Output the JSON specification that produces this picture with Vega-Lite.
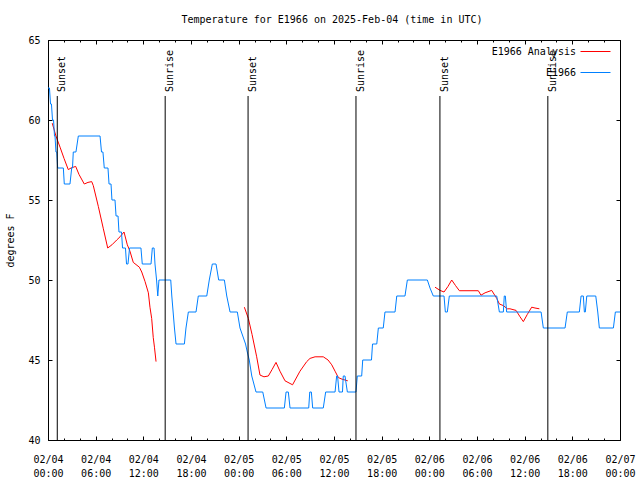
{
  "$schema": "https://vega.github.io/schema/vega-lite/v6.json",
  "width": 572,
  "height": 400,
  "autosize": {"type": "none"},
  "padding": {"left": 48, "top": 40, "right": 20, "bottom": 40},
  "background": "white",
  "title": {"text": "Temperature for E1966 on 2025-Feb-04 (time in UTC)", "font": "DejaVu Sans Mono", "fontSize": 10, "fontWeight": "normal", "color": "#000", "anchor": "middle", "baseline": "bottom", "offset": 0, "dx": -2},
  "config": {
    "font": "DejaVu Sans Mono",
    "view": {"stroke": "#000", "strokeWidth": 1},
    "axis": {"labelFont": "DejaVu Sans Mono", "labelFontSize": 10, "labelColor": "#000", "tickColor": "#000", "tickWidth": 1, "titleFont": "DejaVu Sans Mono", "titleFontSize": 10, "titleFontWeight": "normal", "titleColor": "#000", "grid": false, "domain": false}
  },
  "datasets": {
    "temps": [
      {"series": "E1966", "seg": "b", "time": "2025-02-04T00:00:00Z", "temp": 62},
      {"series": "E1966", "seg": "b", "time": "2025-02-04T00:11:00Z", "temp": 62},
      {"series": "E1966", "seg": "b", "time": "2025-02-04T00:19:00Z", "temp": 61},
      {"series": "E1966", "seg": "b", "time": "2025-02-04T00:26:00Z", "temp": 61},
      {"series": "E1966", "seg": "b", "time": "2025-02-04T00:34:00Z", "temp": 60},
      {"series": "E1966", "seg": "b", "time": "2025-02-04T00:42:00Z", "temp": 60},
      {"series": "E1966", "seg": "b", "time": "2025-02-04T00:49:00Z", "temp": 59},
      {"series": "E1966", "seg": "b", "time": "2025-02-04T00:53:00Z", "temp": 59},
      {"series": "E1966", "seg": "b", "time": "2025-02-04T01:00:00Z", "temp": 58},
      {"series": "E1966", "seg": "b", "time": "2025-02-04T01:06:00Z", "temp": 58},
      {"series": "E1966", "seg": "b", "time": "2025-02-04T01:13:00Z", "temp": 57},
      {"series": "E1966", "seg": "b", "time": "2025-02-04T01:56:00Z", "temp": 57},
      {"series": "E1966", "seg": "b", "time": "2025-02-04T02:03:00Z", "temp": 56},
      {"series": "E1966", "seg": "b", "time": "2025-02-04T02:46:00Z", "temp": 56},
      {"series": "E1966", "seg": "b", "time": "2025-02-04T02:59:00Z", "temp": 57},
      {"series": "E1966", "seg": "b", "time": "2025-02-04T03:05:00Z", "temp": 57},
      {"series": "E1966", "seg": "b", "time": "2025-02-04T03:11:00Z", "temp": 58},
      {"series": "E1966", "seg": "b", "time": "2025-02-04T03:31:00Z", "temp": 58},
      {"series": "E1966", "seg": "b", "time": "2025-02-04T03:49:00Z", "temp": 59},
      {"series": "E1966", "seg": "b", "time": "2025-02-04T06:33:00Z", "temp": 59},
      {"series": "E1966", "seg": "b", "time": "2025-02-04T06:44:00Z", "temp": 58},
      {"series": "E1966", "seg": "b", "time": "2025-02-04T06:55:00Z", "temp": 58},
      {"series": "E1966", "seg": "b", "time": "2025-02-04T07:05:00Z", "temp": 57},
      {"series": "E1966", "seg": "b", "time": "2025-02-04T07:33:00Z", "temp": 57},
      {"series": "E1966", "seg": "b", "time": "2025-02-04T07:41:00Z", "temp": 56},
      {"series": "E1966", "seg": "b", "time": "2025-02-04T07:56:00Z", "temp": 56},
      {"series": "E1966", "seg": "b", "time": "2025-02-04T08:03:00Z", "temp": 55},
      {"series": "E1966", "seg": "b", "time": "2025-02-04T08:26:00Z", "temp": 55},
      {"series": "E1966", "seg": "b", "time": "2025-02-04T08:34:00Z", "temp": 54},
      {"series": "E1966", "seg": "b", "time": "2025-02-04T08:49:00Z", "temp": 54},
      {"series": "E1966", "seg": "b", "time": "2025-02-04T08:56:00Z", "temp": 53},
      {"series": "E1966", "seg": "b", "time": "2025-02-04T09:15:00Z", "temp": 53},
      {"series": "E1966", "seg": "b", "time": "2025-02-04T09:23:00Z", "temp": 52},
      {"series": "E1966", "seg": "b", "time": "2025-02-04T09:45:00Z", "temp": 52},
      {"series": "E1966", "seg": "b", "time": "2025-02-04T09:53:00Z", "temp": 51},
      {"series": "E1966", "seg": "b", "time": "2025-02-04T10:04:00Z", "temp": 51},
      {"series": "E1966", "seg": "b", "time": "2025-02-04T10:16:00Z", "temp": 52},
      {"series": "E1966", "seg": "b", "time": "2025-02-04T11:42:00Z", "temp": 52},
      {"series": "E1966", "seg": "b", "time": "2025-02-04T11:52:00Z", "temp": 51},
      {"series": "E1966", "seg": "b", "time": "2025-02-04T12:58:00Z", "temp": 51},
      {"series": "E1966", "seg": "b", "time": "2025-02-04T13:08:00Z", "temp": 52},
      {"series": "E1966", "seg": "b", "time": "2025-02-04T13:21:00Z", "temp": 52},
      {"series": "E1966", "seg": "b", "time": "2025-02-04T13:28:00Z", "temp": 51},
      {"series": "E1966", "seg": "b", "time": "2025-02-04T13:40:00Z", "temp": 50},
      {"series": "E1966", "seg": "b", "time": "2025-02-04T13:49:00Z", "temp": 49},
      {"series": "E1966", "seg": "b", "time": "2025-02-04T13:58:00Z", "temp": 50},
      {"series": "E1966", "seg": "b", "time": "2025-02-04T15:27:00Z", "temp": 50},
      {"series": "E1966", "seg": "b", "time": "2025-02-04T15:35:00Z", "temp": 49},
      {"series": "E1966", "seg": "b", "time": "2025-02-04T15:45:00Z", "temp": 48},
      {"series": "E1966", "seg": "b", "time": "2025-02-04T15:55:00Z", "temp": 47},
      {"series": "E1966", "seg": "b", "time": "2025-02-04T16:07:00Z", "temp": 46},
      {"series": "E1966", "seg": "b", "time": "2025-02-04T17:10:00Z", "temp": 46},
      {"series": "E1966", "seg": "b", "time": "2025-02-04T17:22:00Z", "temp": 47},
      {"series": "E1966", "seg": "b", "time": "2025-02-04T17:40:00Z", "temp": 48},
      {"series": "E1966", "seg": "b", "time": "2025-02-04T18:38:00Z", "temp": 48},
      {"series": "E1966", "seg": "b", "time": "2025-02-04T18:55:00Z", "temp": 49},
      {"series": "E1966", "seg": "b", "time": "2025-02-04T19:59:00Z", "temp": 49},
      {"series": "E1966", "seg": "b", "time": "2025-02-04T20:18:00Z", "temp": 50},
      {"series": "E1966", "seg": "b", "time": "2025-02-04T20:41:00Z", "temp": 51},
      {"series": "E1966", "seg": "b", "time": "2025-02-04T21:09:00Z", "temp": 51},
      {"series": "E1966", "seg": "b", "time": "2025-02-04T21:29:00Z", "temp": 50},
      {"series": "E1966", "seg": "b", "time": "2025-02-04T22:12:00Z", "temp": 50},
      {"series": "E1966", "seg": "b", "time": "2025-02-04T22:30:00Z", "temp": 49},
      {"series": "E1966", "seg": "b", "time": "2025-02-04T22:55:00Z", "temp": 48},
      {"series": "E1966", "seg": "b", "time": "2025-02-04T23:50:00Z", "temp": 48},
      {"series": "E1966", "seg": "b", "time": "2025-02-05T00:10:00Z", "temp": 47},
      {"series": "E1966", "seg": "b", "time": "2025-02-05T00:31:00Z", "temp": 46.5},
      {"series": "E1966", "seg": "b", "time": "2025-02-05T00:52:00Z", "temp": 46},
      {"series": "E1966", "seg": "b", "time": "2025-02-05T01:05:00Z", "temp": 45.5},
      {"series": "E1966", "seg": "b", "time": "2025-02-05T01:20:00Z", "temp": 45},
      {"series": "E1966", "seg": "b", "time": "2025-02-05T01:39:00Z", "temp": 44},
      {"series": "E1966", "seg": "b", "time": "2025-02-05T02:11:00Z", "temp": 43},
      {"series": "E1966", "seg": "b", "time": "2025-02-05T03:02:00Z", "temp": 43},
      {"series": "E1966", "seg": "b", "time": "2025-02-05T03:27:00Z", "temp": 42},
      {"series": "E1966", "seg": "b", "time": "2025-02-05T05:45:00Z", "temp": 42},
      {"series": "E1966", "seg": "b", "time": "2025-02-05T05:58:00Z", "temp": 43},
      {"series": "E1966", "seg": "b", "time": "2025-02-05T06:15:00Z", "temp": 43},
      {"series": "E1966", "seg": "b", "time": "2025-02-05T06:28:00Z", "temp": 42},
      {"series": "E1966", "seg": "b", "time": "2025-02-05T08:49:00Z", "temp": 42},
      {"series": "E1966", "seg": "b", "time": "2025-02-05T08:57:00Z", "temp": 43},
      {"series": "E1966", "seg": "b", "time": "2025-02-05T09:09:00Z", "temp": 43},
      {"series": "E1966", "seg": "b", "time": "2025-02-05T09:19:00Z", "temp": 42},
      {"series": "E1966", "seg": "b", "time": "2025-02-05T10:39:00Z", "temp": 42},
      {"series": "E1966", "seg": "b", "time": "2025-02-05T10:57:00Z", "temp": 43},
      {"series": "E1966", "seg": "b", "time": "2025-02-05T12:08:00Z", "temp": 43},
      {"series": "E1966", "seg": "b", "time": "2025-02-05T12:20:00Z", "temp": 44},
      {"series": "E1966", "seg": "b", "time": "2025-02-05T12:27:00Z", "temp": 44},
      {"series": "E1966", "seg": "b", "time": "2025-02-05T12:38:00Z", "temp": 43},
      {"series": "E1966", "seg": "b", "time": "2025-02-05T13:04:00Z", "temp": 43},
      {"series": "E1966", "seg": "b", "time": "2025-02-05T13:10:00Z", "temp": 44},
      {"series": "E1966", "seg": "b", "time": "2025-02-05T13:23:00Z", "temp": 44},
      {"series": "E1966", "seg": "b", "time": "2025-02-05T13:41:00Z", "temp": 43},
      {"series": "E1966", "seg": "b", "time": "2025-02-05T14:46:00Z", "temp": 43},
      {"series": "E1966", "seg": "b", "time": "2025-02-05T14:56:00Z", "temp": 44},
      {"series": "E1966", "seg": "b", "time": "2025-02-05T15:29:00Z", "temp": 44},
      {"series": "E1966", "seg": "b", "time": "2025-02-05T15:37:00Z", "temp": 45},
      {"series": "E1966", "seg": "b", "time": "2025-02-05T16:43:00Z", "temp": 45},
      {"series": "E1966", "seg": "b", "time": "2025-02-05T16:51:00Z", "temp": 46},
      {"series": "E1966", "seg": "b", "time": "2025-02-05T17:23:00Z", "temp": 46},
      {"series": "E1966", "seg": "b", "time": "2025-02-05T17:35:00Z", "temp": 47},
      {"series": "E1966", "seg": "b", "time": "2025-02-05T18:12:00Z", "temp": 47},
      {"series": "E1966", "seg": "b", "time": "2025-02-05T18:25:00Z", "temp": 48},
      {"series": "E1966", "seg": "b", "time": "2025-02-05T19:41:00Z", "temp": 48},
      {"series": "E1966", "seg": "b", "time": "2025-02-05T19:54:00Z", "temp": 49},
      {"series": "E1966", "seg": "b", "time": "2025-02-05T20:56:00Z", "temp": 49},
      {"series": "E1966", "seg": "b", "time": "2025-02-05T21:14:00Z", "temp": 50},
      {"series": "E1966", "seg": "b", "time": "2025-02-05T23:45:00Z", "temp": 50},
      {"series": "E1966", "seg": "b", "time": "2025-02-06T00:05:00Z", "temp": 49.5},
      {"series": "E1966", "seg": "b", "time": "2025-02-06T00:30:00Z", "temp": 49},
      {"series": "E1966", "seg": "b", "time": "2025-02-06T01:51:00Z", "temp": 49},
      {"series": "E1966", "seg": "b", "time": "2025-02-06T02:01:00Z", "temp": 48},
      {"series": "E1966", "seg": "b", "time": "2025-02-06T02:16:00Z", "temp": 48},
      {"series": "E1966", "seg": "b", "time": "2025-02-06T02:31:00Z", "temp": 49},
      {"series": "E1966", "seg": "b", "time": "2025-02-06T08:29:00Z", "temp": 49},
      {"series": "E1966", "seg": "b", "time": "2025-02-06T08:49:00Z", "temp": 48},
      {"series": "E1966", "seg": "b", "time": "2025-02-06T09:19:00Z", "temp": 48},
      {"series": "E1966", "seg": "b", "time": "2025-02-06T09:26:00Z", "temp": 49},
      {"series": "E1966", "seg": "b", "time": "2025-02-06T09:34:00Z", "temp": 49},
      {"series": "E1966", "seg": "b", "time": "2025-02-06T09:44:00Z", "temp": 48},
      {"series": "E1966", "seg": "b", "time": "2025-02-06T14:04:00Z", "temp": 48},
      {"series": "E1966", "seg": "b", "time": "2025-02-06T14:21:00Z", "temp": 47},
      {"series": "E1966", "seg": "b", "time": "2025-02-06T17:05:00Z", "temp": 47},
      {"series": "E1966", "seg": "b", "time": "2025-02-06T17:22:00Z", "temp": 48},
      {"series": "E1966", "seg": "b", "time": "2025-02-06T18:53:00Z", "temp": 48},
      {"series": "E1966", "seg": "b", "time": "2025-02-06T19:06:00Z", "temp": 49},
      {"series": "E1966", "seg": "b", "time": "2025-02-06T19:23:00Z", "temp": 49},
      {"series": "E1966", "seg": "b", "time": "2025-02-06T19:31:00Z", "temp": 48},
      {"series": "E1966", "seg": "b", "time": "2025-02-06T19:38:00Z", "temp": 48},
      {"series": "E1966", "seg": "b", "time": "2025-02-06T19:49:00Z", "temp": 49},
      {"series": "E1966", "seg": "b", "time": "2025-02-06T20:57:00Z", "temp": 49},
      {"series": "E1966", "seg": "b", "time": "2025-02-06T21:12:00Z", "temp": 48},
      {"series": "E1966", "seg": "b", "time": "2025-02-06T21:24:00Z", "temp": 47},
      {"series": "E1966", "seg": "b", "time": "2025-02-06T23:10:00Z", "temp": 47},
      {"series": "E1966", "seg": "b", "time": "2025-02-06T23:25:00Z", "temp": 48},
      {"series": "E1966", "seg": "b", "time": "2025-02-07T00:00:00Z", "temp": 48},
      {"series": "E1966 Analysis", "seg": "a1", "time": "2025-02-04T00:32:00Z", "temp": 59.8},
      {"series": "E1966 Analysis", "seg": "a1", "time": "2025-02-04T01:00:00Z", "temp": 59.0},
      {"series": "E1966 Analysis", "seg": "a1", "time": "2025-02-04T01:31:00Z", "temp": 58.3},
      {"series": "E1966 Analysis", "seg": "a1", "time": "2025-02-04T02:01:00Z", "temp": 57.6},
      {"series": "E1966 Analysis", "seg": "a1", "time": "2025-02-04T02:33:00Z", "temp": 56.9},
      {"series": "E1966 Analysis", "seg": "a1", "time": "2025-02-04T02:54:00Z", "temp": 57.0},
      {"series": "E1966 Analysis", "seg": "a1", "time": "2025-02-04T03:29:00Z", "temp": 57.1},
      {"series": "E1966 Analysis", "seg": "a1", "time": "2025-02-04T03:54:00Z", "temp": 56.6},
      {"series": "E1966 Analysis", "seg": "a1", "time": "2025-02-04T04:34:00Z", "temp": 56.0},
      {"series": "E1966 Analysis", "seg": "a1", "time": "2025-02-04T05:02:00Z", "temp": 56.1},
      {"series": "E1966 Analysis", "seg": "a1", "time": "2025-02-04T05:30:00Z", "temp": 56.15},
      {"series": "E1966 Analysis", "seg": "a1", "time": "2025-02-04T05:42:00Z", "temp": 55.9},
      {"series": "E1966 Analysis", "seg": "a1", "time": "2025-02-04T06:20:00Z", "temp": 54.6},
      {"series": "E1966 Analysis", "seg": "a1", "time": "2025-02-04T06:58:00Z", "temp": 53.2},
      {"series": "E1966 Analysis", "seg": "a1", "time": "2025-02-04T07:31:00Z", "temp": 52.0},
      {"series": "E1966 Analysis", "seg": "a1", "time": "2025-02-04T08:03:00Z", "temp": 52.2},
      {"series": "E1966 Analysis", "seg": "a1", "time": "2025-02-04T08:39:00Z", "temp": 52.5},
      {"series": "E1966 Analysis", "seg": "a1", "time": "2025-02-04T09:04:00Z", "temp": 52.7},
      {"series": "E1966 Analysis", "seg": "a1", "time": "2025-02-04T09:34:00Z", "temp": 53.0},
      {"series": "E1966 Analysis", "seg": "a1", "time": "2025-02-04T09:59:00Z", "temp": 52.2},
      {"series": "E1966 Analysis", "seg": "a1", "time": "2025-02-04T10:19:00Z", "temp": 51.8},
      {"series": "E1966 Analysis", "seg": "a1", "time": "2025-02-04T10:44:00Z", "temp": 51.1},
      {"series": "E1966 Analysis", "seg": "a1", "time": "2025-02-04T11:30:00Z", "temp": 50.8},
      {"series": "E1966 Analysis", "seg": "a1", "time": "2025-02-04T11:48:00Z", "temp": 50.5},
      {"series": "E1966 Analysis", "seg": "a1", "time": "2025-02-04T12:13:00Z", "temp": 49.9},
      {"series": "E1966 Analysis", "seg": "a1", "time": "2025-02-04T12:38:00Z", "temp": 49.2},
      {"series": "E1966 Analysis", "seg": "a1", "time": "2025-02-04T12:50:00Z", "temp": 48.3},
      {"series": "E1966 Analysis", "seg": "a1", "time": "2025-02-04T13:03:00Z", "temp": 47.6},
      {"series": "E1966 Analysis", "seg": "a1", "time": "2025-02-04T13:15:00Z", "temp": 46.4},
      {"series": "E1966 Analysis", "seg": "a1", "time": "2025-02-04T13:24:00Z", "temp": 45.8},
      {"series": "E1966 Analysis", "seg": "a1", "time": "2025-02-04T13:36:00Z", "temp": 44.9},
      {"series": "E1966 Analysis", "seg": "a2", "time": "2025-02-05T00:43:00Z", "temp": 48.3},
      {"series": "E1966 Analysis", "seg": "a2", "time": "2025-02-05T01:13:00Z", "temp": 47.6},
      {"series": "E1966 Analysis", "seg": "a2", "time": "2025-02-05T01:41:00Z", "temp": 46.6},
      {"series": "E1966 Analysis", "seg": "a2", "time": "2025-02-05T02:16:00Z", "temp": 45.2},
      {"series": "E1966 Analysis", "seg": "a2", "time": "2025-02-05T02:41:00Z", "temp": 44.06},
      {"series": "E1966 Analysis", "seg": "a2", "time": "2025-02-05T03:11:00Z", "temp": 43.95},
      {"series": "E1966 Analysis", "seg": "a2", "time": "2025-02-05T03:44:00Z", "temp": 44.0},
      {"series": "E1966 Analysis", "seg": "a2", "time": "2025-02-05T04:12:00Z", "temp": 44.4},
      {"series": "E1966 Analysis", "seg": "a2", "time": "2025-02-05T04:42:00Z", "temp": 44.85},
      {"series": "E1966 Analysis", "seg": "a2", "time": "2025-02-05T05:12:00Z", "temp": 44.3},
      {"series": "E1966 Analysis", "seg": "a2", "time": "2025-02-05T05:50:00Z", "temp": 43.7},
      {"series": "E1966 Analysis", "seg": "a2", "time": "2025-02-05T06:47:00Z", "temp": 43.45},
      {"series": "E1966 Analysis", "seg": "a2", "time": "2025-02-05T07:43:00Z", "temp": 44.3},
      {"series": "E1966 Analysis", "seg": "a2", "time": "2025-02-05T08:34:00Z", "temp": 44.9},
      {"series": "E1966 Analysis", "seg": "a2", "time": "2025-02-05T08:59:00Z", "temp": 45.1},
      {"series": "E1966 Analysis", "seg": "a2", "time": "2025-02-05T09:37:00Z", "temp": 45.2},
      {"series": "E1966 Analysis", "seg": "a2", "time": "2025-02-05T10:39:00Z", "temp": 45.2},
      {"series": "E1966 Analysis", "seg": "a2", "time": "2025-02-05T11:15:00Z", "temp": 45.0},
      {"series": "E1966 Analysis", "seg": "a2", "time": "2025-02-05T11:43:00Z", "temp": 44.7},
      {"series": "E1966 Analysis", "seg": "a2", "time": "2025-02-05T12:08:00Z", "temp": 44.3},
      {"series": "E1966 Analysis", "seg": "a2", "time": "2025-02-05T12:33:00Z", "temp": 43.9},
      {"series": "E1966 Analysis", "seg": "a2", "time": "2025-02-05T13:01:00Z", "temp": 43.8},
      {"series": "E1966 Analysis", "seg": "a2", "time": "2025-02-05T13:44:00Z", "temp": 43.7},
      {"series": "E1966 Analysis", "seg": "a3", "time": "2025-02-06T00:43:00Z", "temp": 49.55},
      {"series": "E1966 Analysis", "seg": "a3", "time": "2025-02-06T01:21:00Z", "temp": 49.35},
      {"series": "E1966 Analysis", "seg": "a3", "time": "2025-02-06T01:51:00Z", "temp": 49.25},
      {"series": "E1966 Analysis", "seg": "a3", "time": "2025-02-06T02:21:00Z", "temp": 49.6},
      {"series": "E1966 Analysis", "seg": "a3", "time": "2025-02-06T02:49:00Z", "temp": 50.0},
      {"series": "E1966 Analysis", "seg": "a3", "time": "2025-02-06T03:18:00Z", "temp": 49.65},
      {"series": "E1966 Analysis", "seg": "a3", "time": "2025-02-06T03:47:00Z", "temp": 49.33},
      {"series": "E1966 Analysis", "seg": "a3", "time": "2025-02-06T06:10:00Z", "temp": 49.33},
      {"series": "E1966 Analysis", "seg": "a3", "time": "2025-02-06T06:30:00Z", "temp": 49.05},
      {"series": "E1966 Analysis", "seg": "a3", "time": "2025-02-06T07:01:00Z", "temp": 49.2},
      {"series": "E1966 Analysis", "seg": "a3", "time": "2025-02-06T07:51:00Z", "temp": 49.35},
      {"series": "E1966 Analysis", "seg": "a3", "time": "2025-02-06T08:29:00Z", "temp": 48.85},
      {"series": "E1966 Analysis", "seg": "a3", "time": "2025-02-06T08:49:00Z", "temp": 48.5},
      {"series": "E1966 Analysis", "seg": "a3", "time": "2025-02-06T09:19:00Z", "temp": 48.4},
      {"series": "E1966 Analysis", "seg": "a3", "time": "2025-02-06T09:49:00Z", "temp": 48.2},
      {"series": "E1966 Analysis", "seg": "a3", "time": "2025-02-06T10:09:00Z", "temp": 48.2},
      {"series": "E1966 Analysis", "seg": "a3", "time": "2025-02-06T10:55:00Z", "temp": 48.1},
      {"series": "E1966 Analysis", "seg": "a3", "time": "2025-02-06T11:25:00Z", "temp": 47.7},
      {"series": "E1966 Analysis", "seg": "a3", "time": "2025-02-06T11:50:00Z", "temp": 47.4},
      {"series": "E1966 Analysis", "seg": "a3", "time": "2025-02-06T12:20:00Z", "temp": 47.85},
      {"series": "E1966 Analysis", "seg": "a3", "time": "2025-02-06T12:53:00Z", "temp": 48.3},
      {"series": "E1966 Analysis", "seg": "a3", "time": "2025-02-06T13:18:00Z", "temp": 48.25},
      {"series": "E1966 Analysis", "seg": "a3", "time": "2025-02-06T13:51:00Z", "temp": 48.2}
    ],
    "sun": [
      {"event": "Sunset", "time": "2025-02-04T01:10:00Z"},
      {"event": "Sunrise", "time": "2025-02-04T14:45:00Z"},
      {"event": "Sunset", "time": "2025-02-05T01:11:00Z"},
      {"event": "Sunrise", "time": "2025-02-05T14:46:00Z"},
      {"event": "Sunset", "time": "2025-02-06T01:20:00Z"},
      {"event": "Sunrise", "time": "2025-02-06T14:55:00Z"}
    ]
  },
  "resolve": {"axis": {"x": "independent", "y": "independent"}},
  "layer": [
    {
      "data": {"name": "temps"},
      "transform": [{"filter": "datum.series === 'E1966 Analysis'"}],
      "mark": {"type": "line", "strokeWidth": 1},
      "encoding": {
        "x": {"field": "time", "type": "temporal",
          "scale": {"type": "utc", "domain": [1738627200000, 1738886400000], "nice": false},
          "axis": {"orient": "bottom", "title": null,
            "values": [1738627200000, 1738648800000, 1738670400000, 1738692000000, 1738713600000, 1738735200000, 1738756800000, 1738778400000, 1738800000000, 1738821600000, 1738843200000, 1738864800000, 1738886400000],
            "labelExpr": "[utcFormat(datum.value, '%m/%d'), utcFormat(datum.value, '%H:%M')]", "tickSize": -4, "labelPadding": 18, "labelLineHeight": 14, "labelFlush": false, "labelOverlap": false, "labelAlign": "center", "labelBaseline": "top"}},
        "y": {"field": "temp", "type": "quantitative",
          "scale": {"domain": [40, 65], "nice": false, "zero": false},
          "axis": {"orient": "left", "title": "degrees F", "values": [40, 45, 50, 55, 60, 65], "tickSize": -4, "labelPadding": 12, "titlePadding": 12}},
        "color": {"field": "series", "type": "nominal",
          "scale": {"domain": ["E1966 Analysis", "E1966"], "range": ["#ff0000", "#0080ff"]},
          "legend": {"orient": "none", "legendX": 532, "legendY": -4, "title": null, "symbolType": "stroke", "symbolSize": 900, "symbolStrokeWidth": 1, "labelAlign": "right", "labelOffset": -35, "labelFont": "DejaVu Sans Mono", "labelFontSize": 10, "labelColor": "#000", "rowPadding": 0, "padding": 0}},
        "detail": {"field": "seg"}
      }
    },
    {
      "data": {"name": "temps"},
      "transform": [{"filter": "datum.series === 'E1966'"}],
      "mark": {"type": "line", "strokeWidth": 1},
      "encoding": {
        "x": {"field": "time", "type": "temporal",
          "scale": {"type": "utc", "domain": [1738627200000, 1738886400000], "nice": false},
          "axis": {"orient": "bottom", "title": null,
            "values": [1738627200000, 1738634400000, 1738641600000, 1738648800000, 1738656000000, 1738663200000, 1738670400000, 1738677600000, 1738684800000, 1738692000000, 1738699200000, 1738706400000, 1738713600000, 1738720800000, 1738728000000, 1738735200000, 1738742400000, 1738749600000, 1738756800000, 1738764000000, 1738771200000, 1738778400000, 1738785600000, 1738792800000, 1738800000000, 1738807200000, 1738814400000, 1738821600000, 1738828800000, 1738836000000, 1738843200000, 1738850400000, 1738857600000, 1738864800000, 1738872000000, 1738879200000, 1738886400000],
            "labels": false, "tickSize": -2}},
        "y": {"field": "temp", "type": "quantitative",
          "scale": {"domain": [40, 65], "nice": false, "zero": false},
          "axis": {"orient": "right", "title": null, "values": [40, 45, 50, 55, 60, 65], "labels": false, "tickSize": -4}},
        "color": {"field": "series", "type": "nominal",
          "scale": {"domain": ["E1966 Analysis", "E1966"], "range": ["#ff0000", "#0080ff"]},
          "legend": {"orient": "none", "legendX": 532, "legendY": -4, "title": null, "symbolType": "stroke", "symbolSize": 900, "symbolStrokeWidth": 1, "labelAlign": "right", "labelOffset": -35, "labelFont": "DejaVu Sans Mono", "labelFontSize": 10, "labelColor": "#000", "rowPadding": 0, "padding": 0}}
      }
    },
    {
      "data": {"name": "sun"},
      "mark": {"type": "rule", "color": "#000", "strokeWidth": 1},
      "encoding": {
        "x": {"field": "time", "type": "temporal",
          "scale": {"type": "utc", "domain": [1738627200000, 1738886400000], "nice": false},
          "axis": {"orient": "top", "title": null,
            "values": [1738627200000, 1738648800000, 1738670400000, 1738692000000, 1738713600000, 1738735200000, 1738756800000, 1738778400000, 1738800000000, 1738821600000, 1738843200000, 1738864800000, 1738886400000],
            "labels": false, "tickSize": -4}},
        "y": {"datum": 61.5, "type": "quantitative", "axis": null},
        "y2": {"datum": 40}
      }
    },
    {
      "data": {"name": "sun"},
      "mark": {"type": "text", "angle": 270, "align": "left", "baseline": "top", "font": "DejaVu Sans Mono", "fontSize": 10, "color": "#000"},
      "encoding": {
        "x": {"field": "time", "type": "temporal",
          "scale": {"type": "utc", "domain": [1738627200000, 1738886400000], "nice": false},
          "axis": {"orient": "top", "title": null,
            "values": [1738627200000, 1738634400000, 1738641600000, 1738648800000, 1738656000000, 1738663200000, 1738670400000, 1738677600000, 1738684800000, 1738692000000, 1738699200000, 1738706400000, 1738713600000, 1738720800000, 1738728000000, 1738735200000, 1738742400000, 1738749600000, 1738756800000, 1738764000000, 1738771200000, 1738778400000, 1738785600000, 1738792800000, 1738800000000, 1738807200000, 1738814400000, 1738821600000, 1738828800000, 1738836000000, 1738843200000, 1738850400000, 1738857600000, 1738864800000, 1738872000000, 1738879200000, 1738886400000],
            "labels": false, "tickSize": -2}},
        "y": {"datum": 61.75, "type": "quantitative", "axis": null},
        "text": {"field": "event"}
      }
    }
  ]
}
